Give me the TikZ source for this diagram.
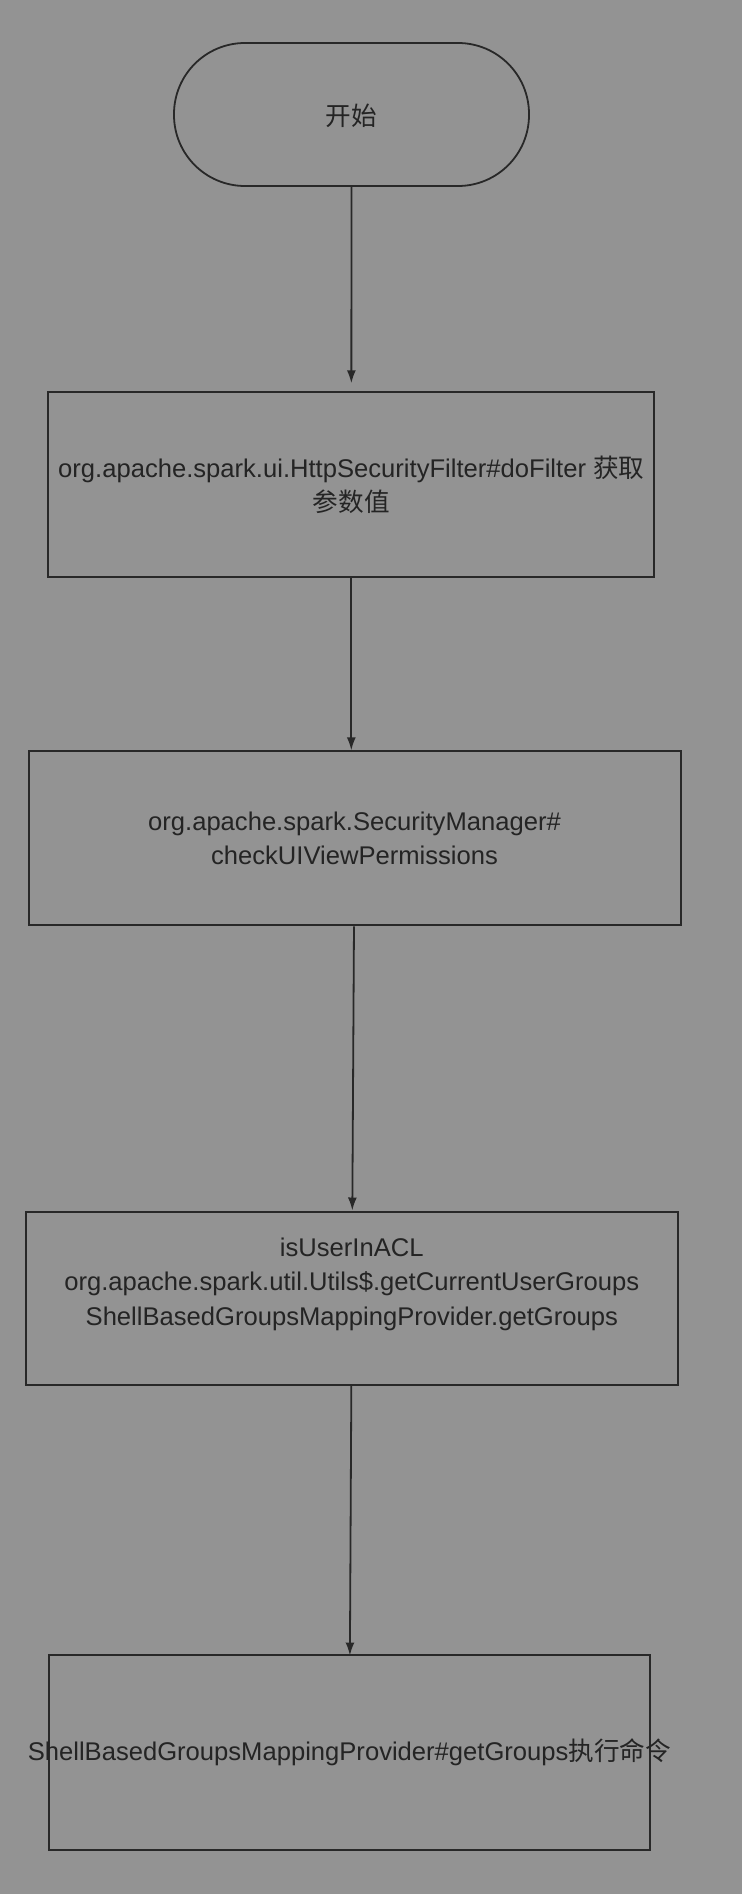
\documentclass[tikz,border=0pt]{standalone}
\usepackage{fontspec}
\setmainfont{Liberation Sans}
\newfontfamily\cjk{Noto Sans CJK SC}
\usepackage{xcolor}
\usepackage{tikz}
\usetikzlibrary{arrows.meta}

\definecolor{bggray}{RGB}{147,147,147}
\definecolor{linegray}{RGB}{40,40,40}
\definecolor{textgray}{RGB}{36,36,36}

\begin{document}
\begin{tikzpicture}[
        x=1pt, y=1pt,
        terminal/.style={rectangle, draw=linegray, line width=1.8pt, rounded corners=71pt, minimum width=355pt, minimum height=143pt, align=center},
        box/.style={rectangle, draw=linegray, line width=2pt, align=center, inner sep=4pt},
        arrow/.style={-{Latex[length=13pt,width=9pt]}, line width=1.8pt, draw=linegray},
        every node/.style={font=\fontsize{25.6}{34.5}\selectfont, text=textgray}
    ]

    % Canvas
    \fill[bggray] (0,0) rectangle (742,-1894);
    \useasboundingbox (0,0) rectangle (742,-1894);

    % Start
    \node[terminal, text depth=-4pt] (start) at (351.5,-114.5) {\cjk 开始};

    % Steps
    \node[box, minimum width=606pt, minimum height=185pt] (filter) at (351.3,-484.8) {org.apache.spark.ui.HttpSecurityFilter\#doFilter {\cjk 获取}\\{\cjk 参数值}};
    \node[box, minimum width=652pt, minimum height=174pt] (manager) at (354.5,-838.4) {org.apache.spark.SecurityManager\#\\checkUIViewPermissions};
    \node[box, minimum width=652pt, minimum height=173pt, text depth=33pt] (groups) at (351.8,-1298) {isUserInACL\\org.apache.spark.util.Utils\$.getCurrentUserGroups\\ShellBasedGroupsMappingProvider.getGroups};
    \node[box, minimum width=601pt, minimum height=195pt, inner xsep=-22pt] (command) at (349.4,-1752) {ShellBasedGroupsMappingProvider\#getGroups{\cjk 执行命令}};

    % Connections
    \draw[arrow, shorten >=8pt] (start) -- (filter);
    \draw[arrow] (filter.south) -- (filter.south |- manager.north);
    \draw[arrow] (manager) -- (groups);
    \draw[arrow, shorten >=-2pt] (groups) -- (command);

\end{tikzpicture}
\end{document}
